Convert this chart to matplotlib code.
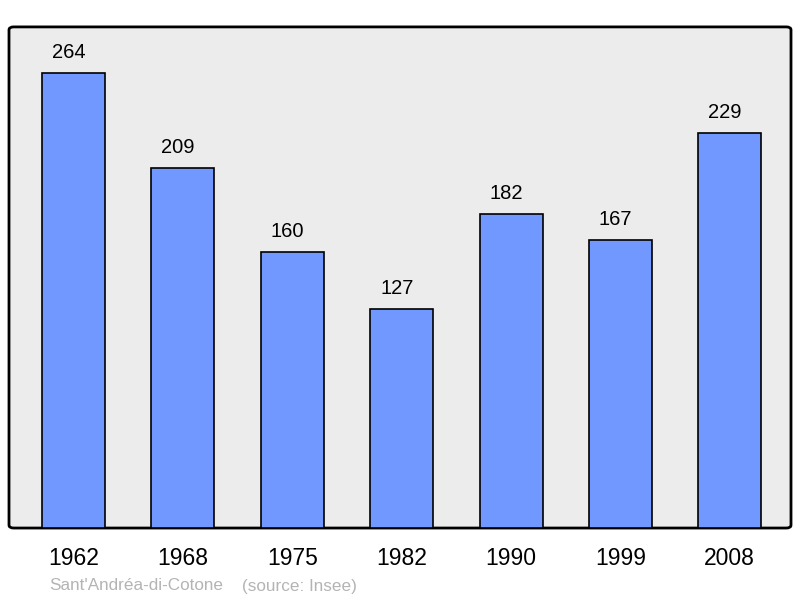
import numpy as np
import matplotlib.pyplot as plt
from matplotlib.patches import FancyBboxPatch

annees = ['1962', '1968', '1975', '1982', '1990', '1999', '2008']
population = [264, 209, 160, 127, 182, 167, 229]

plt.rcParams['font.family'] = ['Liberation Sans', 'DejaVu Sans']

fig = plt.figure(figsize=(8, 5.98), dpi=100)
ax = fig.add_axes([0.01125, 0.117, 0.9775, 0.838])
ax.set_facecolor('none')

# fond gris avec coins arrondis
fond = FancyBboxPatch((0, 0), 1, 1, boxstyle='round,pad=0,rounding_size=0.006',
                      transform=ax.transAxes, facecolor='#ececec',
                      edgecolor='black', linewidth=2, zorder=0, clip_on=False)
ax.add_patch(fond)

x = np.arange(len(annees))
ax.bar(x, population, width=0.576, color='#7098ff', edgecolor='black',
       linewidth=1.2, zorder=2)

for xi, v in zip(x, population):
    ax.annotate(str(v), (xi, v), xytext=(-3.5, 7.8), textcoords='offset points',
                ha='center', va='bottom', fontsize=14.5)

ax.set_xlim(-0.59, 6.56)
ax.set_ylim(0, 290.7)
ax.set_xticks(x)
ax.set_xticklabels(annees, fontsize=16.5)
ax.tick_params(axis='x', length=0, pad=14)
ax.set_yticks([])
for s in ax.spines.values():
    s.set_visible(False)

fig.text(49 / 800, 1 - 586 / 598, "Sant'Andréa-di-Cotone", color='#b4b4b4',
         fontsize=12.3, va='center', ha='left')
fig.text(242 / 800, 1 - 586 / 598, "(source: Insee)", color='#b4b4b4',
         fontsize=12.3, va='center', ha='left')

fig.savefig('out.png', dpi=100)
